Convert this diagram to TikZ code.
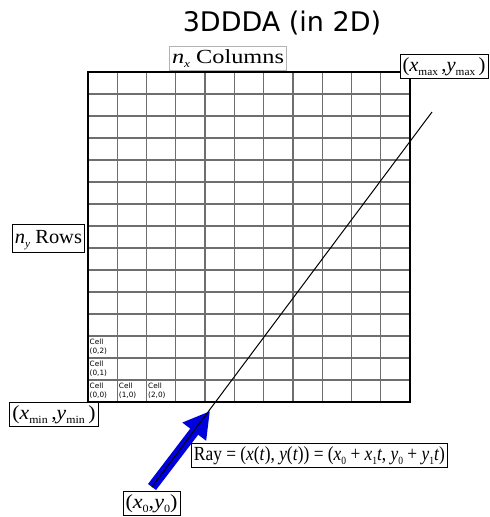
\documentclass[tikz,border=0pt]{standalone}
\usepackage{fontspec}
\usepackage{graphicx}
\setmainfont{Liberation Serif}
\newfontfamily\djv{DejaVu Sans}
\usetikzlibrary{arrows.meta}
\definecolor{gridgray}{RGB}{110,110,110}
\definecolor{rayblue}{RGB}{0,0,220}
\newcommand{\lbl}{\fontsize{20}{22}\selectfont}
\newcommand{\sbs}[1]{\raisebox{-4pt}{\fontsize{11}{11}\selectfont #1}}
\newcommand{\fitw}[2]{\resizebox{#1}{\height}{#2}}
\begin{document}
\begin{tikzpicture}[x=1pt,y=-1pt,
  gridline/.style={draw=gridgray,line width=1.3pt},
  border/.style={draw=black,line width=1.5pt},
  labelbox/.style={draw=black,line width=1pt,fill=white,inner xsep=2.5pt,inner ysep=2pt,
    text height=15pt,text depth=5pt,font=\lbl},
  graybox/.style={labelbox,draw=gray!60},
  celltext/.style={anchor=north west,align=left,inner sep=0pt,font=\djv\fontsize{7.3}{8.8}\selectfont},
  blue arrow/.style={draw=rayblue,line width=10pt,-{Triangle[length=26pt,width=28pt]}},
  raystyle/.style={draw=black,line width=1pt}]
\useasboundingbox (0,0) rectangle (490,517);
% title
\node[font=\djv\fontsize{27}{30}\selectfont] (title) at (282,23) {3DDDA (in 2D)};
% grid
\foreach \i in {1,...,10} \draw[gridline] ({88+\i*322/11},72) -- ({88+\i*322/11},402);
\foreach \j in {1,...,14} \draw[gridline] (88,{72+\j*22}) -- (410,{72+\j*22});
\draw[border] (88,72) rectangle (410,402);
% cell labels
\node[celltext] (c00) at (89.5,382.5) {Cell\\(0,0)};
\node[celltext] (c01) at (89.5,360.5) {Cell\\(0,1)};
\node[celltext] (c02) at (89.5,338.5) {Cell\\(0,2)};
\node[celltext] (c10) at ({88+322/11+1.5},382.5) {Cell\\(1,0)};
\node[celltext] (c20) at ({88+2*322/11+1.5},382.5) {Cell\\(2,0)};
% ray
\coordinate (r0) at (152,487);
\coordinate (rtip) at (210,411);
\coordinate (r1) at (432,112);
\draw[blue arrow] (r0) -- (rtip);
\draw[raystyle] (r0) -- (r1);
% labels
\node[graybox] (ncol) at (228,58.5) {\fitw{112pt}{\textit{n}\sbs{\itshape x}\ Columns}};
\node[labelbox] (xmax) at (444,66) {\fitw{83pt}{(\textit{x}\sbs{max}\,,\textit{y}\sbs{max}\,)}};
\node[labelbox,inner ysep=4pt] (nrows) at (48.5,238.5) {\fitw{67pt}{\textit{n}\sbs{\itshape y}\ Rows}};
\node[labelbox] (xmin) at (54,414.5) {\fitw{83pt}{(\textit{x}\sbs{min}\,,\textit{y}\sbs{min}\,)}};
\node[labelbox] (ray) at (319.5,455) {\fitw{251pt}{Ray = (\textit{x}(\textit{t}), \textit{y}(\textit{t})) = (\textit{x}\sbs{0} + \textit{x}\sbs{1}\textit{t}, \textit{y}\sbs{0} + \textit{y}\sbs{1}\textit{t})}};
\node[labelbox] (x0) at (151.5,503) {\fitw{52pt}{(\textit{x}\sbs{0},\textit{y}\sbs{0})}};
\end{tikzpicture}
\end{document}
